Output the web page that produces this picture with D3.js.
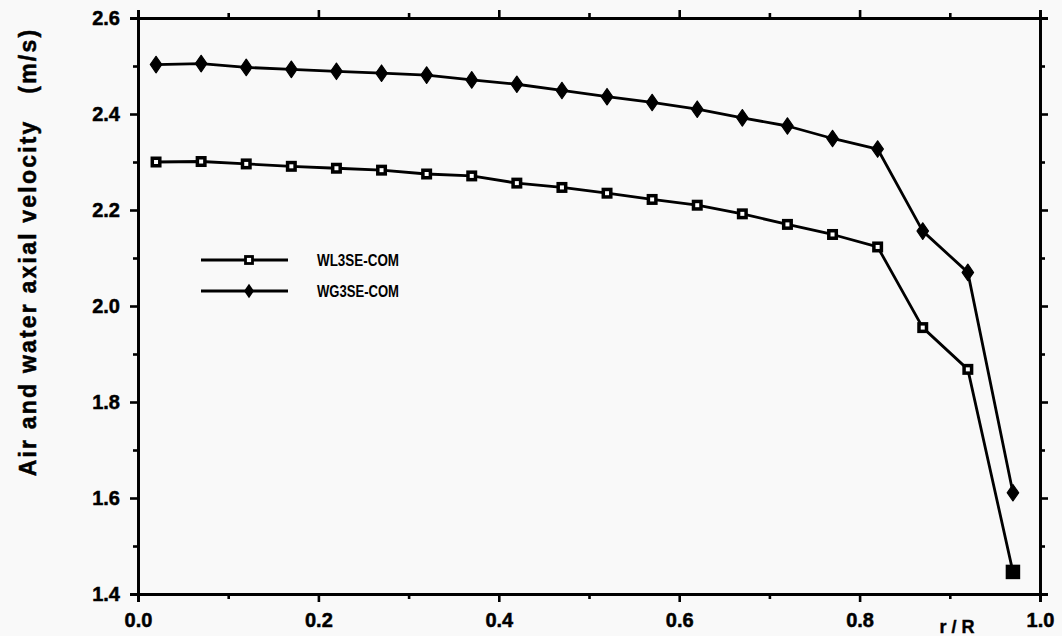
<!DOCTYPE html>
<html>
<head>
<meta charset="utf-8">
<script src="https://cdn.jsdelivr.net/npm/d3@7"></script>
<style>
  body { margin: 0; background: #f9f9f9; }
  svg { display: block; }
  text { font-family: "Liberation Sans", Arial, sans-serif; fill: #000; }
</style>
</head>
<body>
<svg id="chart" width="1062" height="636"></svg>
<script>
var rR = [0.02, 0.07, 0.12, 0.17, 0.22, 0.27, 0.32, 0.37, 0.42, 0.47,
          0.52, 0.57, 0.62, 0.67, 0.72, 0.77, 0.82, 0.87, 0.92, 0.97];
var wl3se = [2.300, 2.301, 2.296, 2.291, 2.287, 2.283, 2.275, 2.271, 2.256, 2.247,
             2.235, 2.222, 2.210, 2.192, 2.170, 2.149, 2.123, 1.955, 1.868, 1.446];
var wg3se = [2.503, 2.505, 2.497, 2.493, 2.489, 2.485, 2.481, 2.471, 2.462, 2.449,
             2.436, 2.424, 2.410, 2.392, 2.375, 2.349, 2.327, 2.156, 2.070, 1.611];
var xTicks = [0.0, 0.2, 0.4, 0.6, 0.8, 1.0];
var yTicks = [1.4, 1.6, 1.8, 2.0, 2.2, 2.4, 2.6];
var xMinor = [0.1, 0.3, 0.5, 0.7, 0.9];
var yMinor = [1.5, 1.7, 1.9, 2.1, 2.3, 2.5];
var seriesNames = ["WL3SE-COM", "WG3SE-COM"];

var svg = d3.select("#chart"),
    plotLeft = 138, plotRight = 1040, plotTop = 18, plotBottom = 594;

var x = d3.scaleLinear().domain([0, 1]).range([plotLeft, plotRight]),
    y = d3.scaleLinear().domain([1.4, 2.6]).range([plotBottom, plotTop]);

// axes: major ticks labelled, minor ticks in between, all pointing out
function drawAxis(axisFn, scale, translate, labels) {
  var isX = scale === x;
  var gMinor = svg.append("g").attr("transform", translate)
    .call(axisFn(scale).tickValues(isX ? xMinor : yMinor).tickSize(5).tickFormat(""));
  var gMajor = svg.append("g").attr("transform", translate)
    .call(axisFn(scale).tickValues(isX ? xTicks : yTicks).tickSize(8)
      .tickPadding(isX ? 11 : 10).tickFormat(labels ? d3.format(".1f") : ""));
  [gMinor, gMajor].forEach(function(s) {
    s.select(".domain").attr("stroke", "#000").attr("stroke-width", 2.8);
    s.selectAll(".tick line").attr("stroke", "#000").attr("stroke-width", 2.6);
  });
  gMajor.selectAll(".tick text").attr("font-size", 20).attr("font-weight", "bold")
    .attr("stroke", "#000").attr("stroke-width", 0.5);
  return gMajor;
}

drawAxis(d3.axisBottom, x, "translate(0," + plotBottom + ")", true);
drawAxis(d3.axisTop, x, "translate(0," + plotTop + ")", false);
drawAxis(d3.axisLeft, y, "translate(" + plotLeft + ",0)", true);
drawAxis(d3.axisRight, y, "translate(" + plotRight + ",0)", false);

// axis titles
svg.append("text")
  .attr("transform", "translate(36,252) rotate(-90)")
  .attr("text-anchor", "middle")
  .attr("font-size", 23).attr("font-weight", "bold")
  .attr("letter-spacing", 2.2)
  .attr("stroke", "#000").attr("stroke-width", 0.5)
  .attr("xml:space", "preserve")
  .text("Air and water axial velocity   (m/s)");

svg.append("text")
  .attr("x", 957).attr("y", 633)
  .attr("text-anchor", "middle")
  .attr("font-size", 18).attr("font-weight", "bold")
  .attr("stroke", "#000").attr("stroke-width", 0.4)
  .attr("xml:space", "preserve")
  .text("r / R");

// series lines
var line = d3.line()
  .x(function(d) { return x(d[0]); })
  .y(function(d) { return y(d[1]); });

var wlPts = rR.map(function(r, i) { return [r, wl3se[i]]; }),
    wgPts = rR.map(function(r, i) { return [r, wg3se[i]]; });

[wlPts, wgPts].forEach(function(pts) {
  svg.append("path").datum(pts)
    .attr("d", line)
    .attr("fill", "none")
    .attr("stroke", "#000")
    .attr("stroke-width", 2.8)
    .attr("stroke-linejoin", "round");
});

svg.append("g").selectAll("path")
  .data(wgPts).enter().append("path")
  .attr("transform", function(d) { return "translate(" + x(d[0]) + "," + y(d[1]) + ") scale(1.2,1)"; })
  .attr("d", d3.symbol().type(d3.symbolDiamond).size(80))
  .attr("fill", "#000")
  .attr("stroke", "#000")
  .attr("stroke-width", 1)
  .attr("stroke-linejoin", "round");

var last = wlPts.length - 1;
svg.append("g").selectAll("rect")
  .data(wlPts).enter().append("rect")
  .attr("x", function(d, i) { return x(d[0]) - (i === last ? 5.5 : 3.75); })
  .attr("y", function(d, i) { return y(d[1]) - (i === last ? 5.5 : 3.75); })
  .attr("width", function(d, i) { return i === last ? 11 : 7.5; })
  .attr("height", function(d, i) { return i === last ? 11 : 7.5; })
  .attr("fill", function(d, i) { return i === last ? "#000" : "#fff"; })
  .attr("stroke", "#000")
  .attr("stroke-width", 3.5);

// legend
var legend = svg.append("g");
seriesNames.forEach(function(name, i) {
  var ly = 260 + i * 31;
  legend.append("line")
    .attr("x1", 201).attr("x2", 288).attr("y1", ly).attr("y2", ly)
    .attr("stroke", "#000").attr("stroke-width", 2.8);
  if (i === 0) {
    legend.append("rect")
      .attr("x", 245.5).attr("y", ly - 3.5).attr("width", 7).attr("height", 7)
      .attr("fill", "#fff").attr("stroke", "#000").attr("stroke-width", 2.8);
  } else {
    legend.append("path")
      .attr("transform", "translate(249," + ly + ") scale(1.2,1)")
      .attr("d", d3.symbol().type(d3.symbolDiamond).size(60))
      .attr("fill", "#000");
  }
  legend.append("text")
    .attr("x", 317).attr("y", ly + 6)
    .attr("font-size", 16).attr("font-weight", "bold")
    .attr("textLength", 82).attr("lengthAdjust", "spacingAndGlyphs")
    .text(name);
});
</script>
</body>
</html>
